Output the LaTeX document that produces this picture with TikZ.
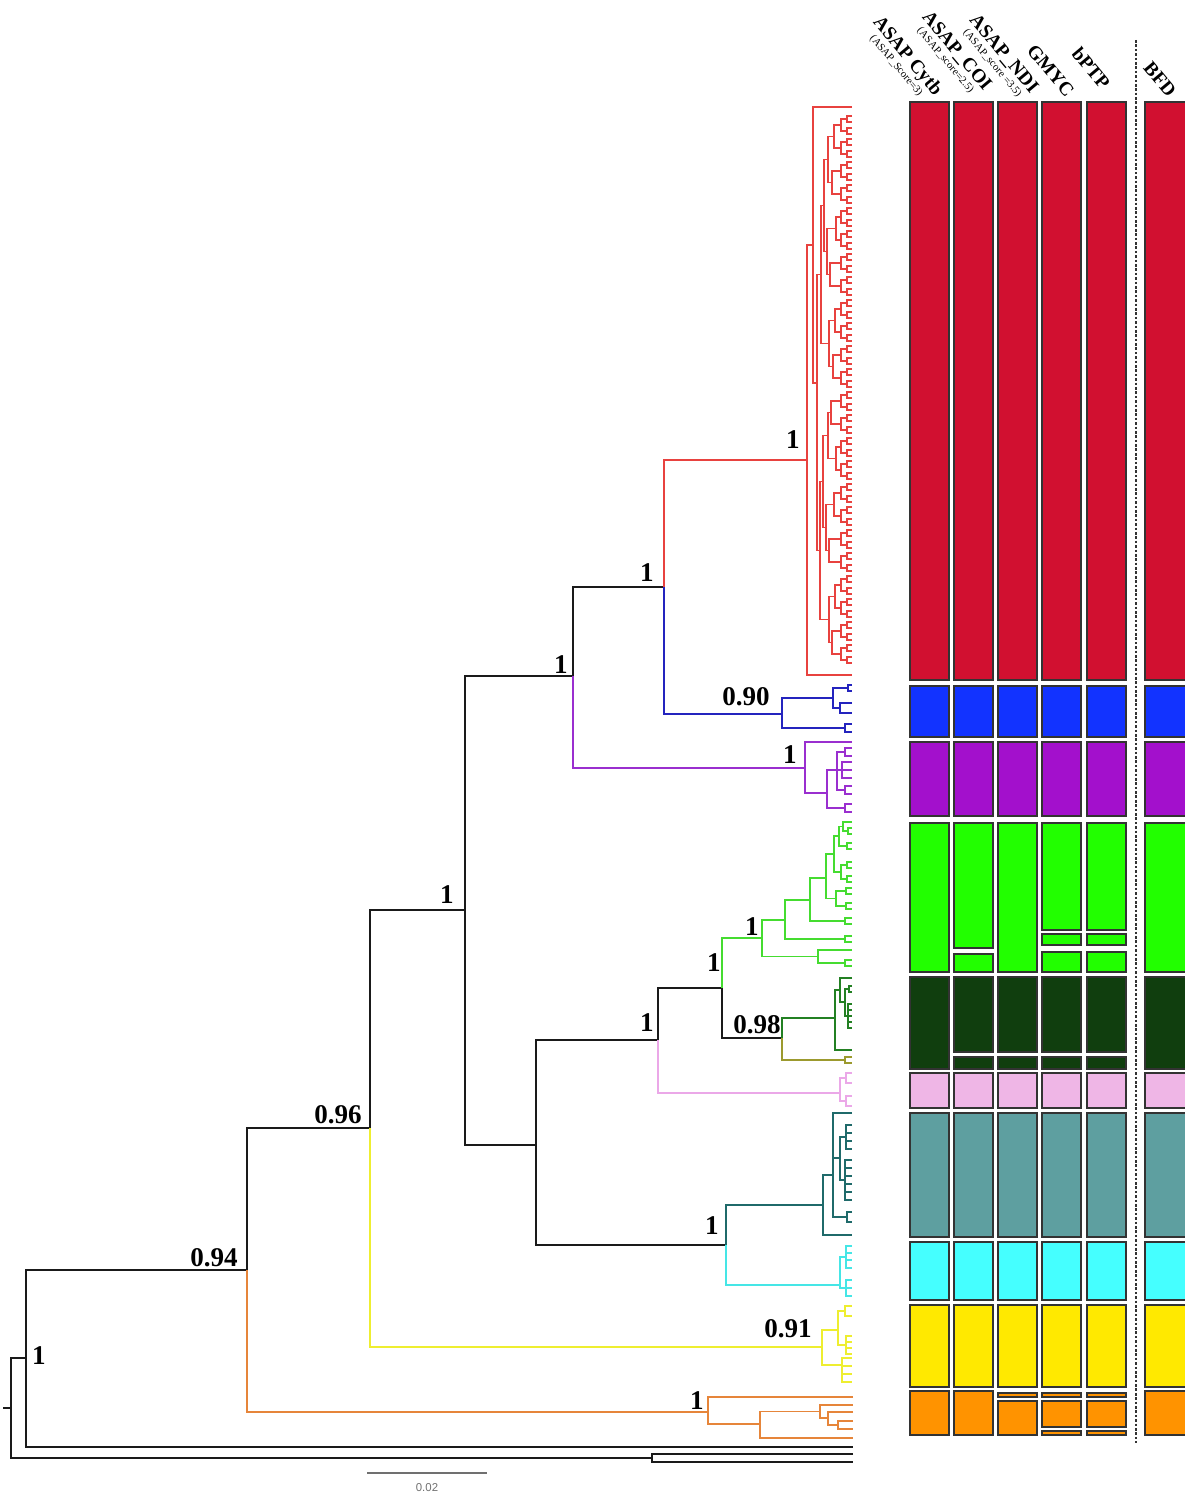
\documentclass[tikz,border=0pt]{standalone}
\usepackage{fontspec}
\setmainfont{Liberation Serif}
\newfontfamily\barfont{Liberation Sans}
\usepackage{tikz}

\definecolor{trblack}{HTML}{1A1A1A}
\definecolor{trred}{HTML}{E8423F}
\definecolor{trblue}{HTML}{2424BE}
\definecolor{trpurple}{HTML}{9A2FCF}
\definecolor{trgreen}{HTML}{45DC30}
\definecolor{trdkgreen}{HTML}{238023}
\definecolor{trolive}{HTML}{9C9A2E}
\definecolor{trpink}{HTML}{EBA8E8}
\definecolor{trteal}{HTML}{1F6A6A}
\definecolor{trcyan}{HTML}{45E6E6}
\definecolor{tryellow}{HTML}{EEEE30}
\definecolor{trorange}{HTML}{E6853A}
\definecolor{bxred}{HTML}{D11030}
\definecolor{bxblue}{HTML}{1233FF}
\definecolor{bxpurple}{HTML}{A310CC}
\definecolor{bxgreen}{HTML}{22FF00}
\definecolor{bxdkgreen}{HTML}{103E0E}
\definecolor{bxpink}{HTML}{EFB6E6}
\definecolor{bxteal}{HTML}{5E9FA0}
\definecolor{bxcyan}{HTML}{45FFFF}
\definecolor{bxyellow}{HTML}{FFE900}
\definecolor{bxorange}{HTML}{FF9300}
\definecolor{bxline}{HTML}{333333}
\definecolor{sbgray}{HTML}{707070}

\tikzstyle{branch}=[line width=1.1pt]
\tikzstyle{bar}=[draw=bxline, line width=1pt]
\tikzstyle{sep}=[draw=bxline, line width=0.9pt, dash pattern=on 1.5pt off 1pt]
\tikzstyle{support}=[font=\fontsize{15.4}{18}\selectfont\bfseries, text=black, inner sep=0pt]
\tikzstyle{method}=[font=\fontsize{11}{12}\selectfont\bfseries, text=black, rotate=-50, inner sep=0pt, align=center]
\tikzstyle{scalebar}=[draw=sbgray, line width=1.1pt]
\tikzstyle{scalelab}=[font=\barfont\fontsize{6.5}{8}\selectfont, text=sbgray, inner sep=0pt]
\newcommand{\asapscore}[1]{{\fontsize{6.1}{7}\selectfont\mdseries #1}}

\begin{document}
\begin{tikzpicture}[x=0.02cm,y=-0.02cm,branch]
  \useasboundingbox (0,0) rectangle (1184,1493);
  % backbone
  \begin{scope}[trblack]
    \draw (3,1408)--(11,1408);
    \draw (26,1358) -| (11,1458) -- (652,1458);
    \draw (853,1454) -| (652,1462) -- (853,1462);
    \draw (247,1270) -| (26,1447) -- (853,1447);
    \draw (370,1128) -| (247,1270);
    \draw (465,910) -| (370,1128);
    \draw (573,676) -| (465,1145) -- (536,1145);
    \draw (658,1040) -| (536,1245) -- (726,1245);
    \draw (722,988) -| (658,1040);
    \draw (782,1038) -| (722,988);
    \draw (664,587) -| (573,676);
  \end{scope}
  % red clade
  \begin{scope}[trred]
    \draw (664,587) |- (807,460);
    \draw (813,245) -| (807,675) -- (852,675);
    \draw (852,107) -| (813,383) -- (817,383);
    \draw (821,274.5) -| (817,550.5) -- (820,550.5);
    \draw (824,205.5) -| (821,343.5) -- (829,343.5);
    \draw (828,159.5) -| (824,251.5) -- (827,251.5);
    \draw (823,481.5) -| (820,619.5) -- (829,619.5);
    \draw (828,435.5) -| (823,527.5) -- (826,527.5);
    \foreach \y/\xq/\xa/\xb in {159.5/828/834/832, 251.5/827/836/830, 343.5/829/835/833,
        435.5/828/831/836, 527.5/826/834/829, 619.5/829/835/832}
      \draw (\xa,\y-23) -| (\xq,\y+23) -- (\xb,\y+23);
    \foreach \y/\xp in {136.5/834, 182.5/832, 228.5/836, 274.5/830, 320.5/835, 366.5/833,
        412.5/831, 458.5/836, 504.5/834, 550.5/829, 596.5/835, 642.5/832}
      \draw (841,\y-11.5) -| (\xp,\y+11.5) -- (841,\y+11.5);
    \foreach \y in {125,148,...,654}{
      \draw (847,\y-6) -| (841,\y+6) -- (847,\y+6);
      \draw (852,\y-9) -| (847,\y-3) -- (852,\y-3);
      \draw (852,\y+3) -| (847,\y+9) -- (852,\y+9);
    }
  \end{scope}
  % blue clade
  \begin{scope}[trblue]
    \draw (664,587) |- (782,714);
    \draw (833,698) -| (782,728) -- (845,728);
    \draw (852,724) -| (845,732) -- (852,732);
    \draw (848,688) -| (833,708) -- (840,708);
    \draw (852,685) -| (848,691) -- (852,691);
    \draw (852,703) -| (840,713) -- (852,713);
  \end{scope}
  % purple clade
  \begin{scope}[trpurple]
    \draw (573,676) |- (805,768);
    \draw (852,742) -| (805,793) -- (827,793);
    \draw (837,770) -| (827,808) -- (845,808);
    \draw (852,804) -| (845,812) -- (852,812);
    \draw (845,752) -| (837,790) -- (845,790);
    \draw (852,748) -| (845,756) -- (852,756);
    \draw (852,786) -| (845,794) -- (852,794);
    \draw (852,762) -| (842,778) -- (852,778);
    \draw (837,770) -- (852,770);
  \end{scope}
  % green clade
  \begin{scope}[trgreen]
    \draw (722,988) |- (762,938);
    \draw (785,920) -| (762,956.5) -- (818,956.5);
    \draw (852,950) -| (818,963) -- (845,963);
    \draw (852,960) -| (845,966) -- (852,966);
    \draw (810,900) -| (785,939) -- (845,939);
    \draw (852,936) -| (845,942) -- (852,942);
    \draw (826,878) -| (810,921) -- (845,921);
    \draw (852,918) -| (845,924) -- (852,924);
    \draw (834,854) -| (826,898.5) -- (836,898.5);
    \draw (846,891) -| (836,906) -- (846,906);
    \draw (852,888) -| (846,894) -- (852,894);
    \draw (852,903) -| (846,909) -- (852,909);
    \draw (839,836) -| (834,872) -- (841,872);
    \draw (843,826.5) -| (839,846) -- (847,846);
    \draw (852,822) -| (843,831) -- (848,831);
    \draw (852,828) -| (848,834) -- (852,834);
    \draw (852,843) -| (847,849) -- (852,849);
    \draw (847,865) -| (841,879) -- (847,879);
    \draw (852,862) -| (847,868) -- (852,868);
    \draw (852,876) -| (847,882) -- (852,882);
  \end{scope}
  % dark green and olive
  \begin{scope}[trdkgreen]
    \draw (782,1038) |- (835,1018);
    \draw (840,990) -| (835,1050) -- (852,1050);
    \draw (852,978) -| (840,1002) -- (845,1002);
    \draw (849,989) -| (845,1016) -- (848,1016);
    \draw (852,986) -| (849,992) -- (852,992);
    \draw (852,1004) -| (848,1028) -- (852,1028);
    \foreach \y in {1010,1016,1022} \draw (848,\y) -- (852,\y);
  \end{scope}
  \begin{scope}[trolive]
    \draw (782,1038) |- (845,1060);
    \draw (852,1057) -| (845,1063) -- (852,1063);
  \end{scope}
  % pink
  \begin{scope}[trpink]
    \draw (658,1040) |- (840,1093);
    \draw (846,1078) -| (840,1101) -- (846,1101);
    \draw (852,1073) -| (846,1083) -- (852,1083);
    \draw (852,1096) -| (846,1106) -- (852,1106);
  \end{scope}
  % teal and cyan
  \begin{scope}[trteal]
    \draw (726,1245) |- (823,1205);
    \draw (833,1175) -| (823,1235) -- (852,1235);
    \draw (852,1113) -| (833,1217) -- (847,1217);
    \draw (833,1158) -- (840,1158);
    \draw (852,1212) -| (847,1222) -- (852,1222);
    \draw (846,1137) -| (840,1180) -- (845,1180);
    \draw (852,1125) -| (846,1149) -- (852,1149);
    \draw (852,1160) -| (845,1200) -- (852,1200);
    \foreach \y in {1133,1141} \draw (846,\y) -- (852,\y);
    \foreach \y in {1168,1176,1184,1192} \draw (845,\y) -- (852,\y);
  \end{scope}
  \begin{scope}[trcyan]
    \draw (726,1245) |- (840,1285);
    \draw (846,1257) -| (840,1288) -- (846,1288);
    \draw (852,1246) -| (846,1268) -- (852,1268);
    \draw (852,1280) -| (846,1296) -- (852,1296);
    \foreach \y in {1253,1260,1288} \draw (846,\y) -- (852,\y);
  \end{scope}
  % yellow
  \begin{scope}[tryellow]
    \draw (370,1128) |- (822,1347);
    \draw (838,1330) -| (822,1365) -- (842,1365);
    \draw (845,1311) -| (838,1345) -- (846,1345);
    \draw (852,1306) -| (845,1316) -- (852,1316);
    \draw (852,1336) -| (846,1354) -- (852,1354);
    \draw (852,1358) -| (842,1382) -- (852,1382);
    \foreach \y in {1342,1348} \draw (846,\y) -- (852,\y);
    \foreach \y in {1366,1374} \draw (842,\y) -- (852,\y);
  \end{scope}
  % orange
  \begin{scope}[trorange]
    \draw (247,1270) |- (708,1412);
    \draw (853,1397) -| (708,1424) -- (760,1424);
    \draw (820,1411.5) -| (760,1438) -- (853,1438);
    \draw (853,1405) -| (820,1418) -- (828,1418);
    \draw (853,1412) -| (828,1425) -- (838,1425);
    \draw (853,1421) -| (838,1429) -- (853,1429);
  \end{scope}
  % posterior values
  \node[support] (s1root) at (39,1356) {1};
  \node[support] (s094) at (214,1258) {0.94};
  \node[support] (s096) at (338,1115) {0.96};
  \node[support] (s1a) at (447,895) {1};
  \node[support] (s1b) at (561,665) {1};
  \node[support] (s1c) at (647,573) {1};
  \node[support] (s1red) at (793,440) {1};
  \node[support] (s090) at (746,697) {0.90};
  \node[support] (s1purple) at (790,755) {1};
  \node[support] (s1green) at (752,927) {1};
  \node[support] (s1d) at (714,963) {1};
  \node[support] (s1e) at (647,1023) {1};
  \node[support] (s098) at (757,1025) {0.98};
  \node[support] (s1teal) at (712,1226) {1};
  \node[support] (s091) at (788,1329) {0.91};
  \node[support] (s1orange) at (697,1401) {1};
  % delimitation bars
  \foreach \ya/\yb/\fillc in {102/680/bxred, 686/737/bxblue, 742/816/bxpurple, 1073/1108/bxpink,
      1113/1237/bxteal, 1242/1300/bxcyan, 1305/1387/bxyellow}
    \foreach \xa/\xb in {910/949, 954/993, 998/1037, 1042/1081, 1087/1126, 1145/1190}
      \draw[bar, fill=\fillc] (\xa,\ya) rectangle (\xb,\yb);
  \foreach \xa/\xb in {910/949, 998/1037, 1145/1190}
    \draw[bar, fill=bxgreen] (\xa,823) rectangle (\xb,972);
  \draw[bar, fill=bxgreen] (954,823) rectangle (993,948);
  \draw[bar, fill=bxgreen] (954,954) rectangle (993,972);
  \foreach \xa/\xb in {1042/1081, 1087/1126}{
    \draw[bar, fill=bxgreen] (\xa,823) rectangle (\xb,930);
    \draw[bar, fill=bxgreen] (\xa,934) rectangle (\xb,945);
    \draw[bar, fill=bxgreen] (\xa,952) rectangle (\xb,972);
  }
  \foreach \xa/\xb in {910/949, 1145/1190}
    \draw[bar, fill=bxdkgreen] (\xa,977) rectangle (\xb,1069);
  \foreach \xa/\xb in {954/993, 998/1037, 1042/1081, 1087/1126}{
    \draw[bar, fill=bxdkgreen] (\xa,977) rectangle (\xb,1052);
    \draw[bar, fill=bxdkgreen] (\xa,1057) rectangle (\xb,1069);
  }
  \foreach \xa/\xb in {910/949, 954/993, 1145/1190}
    \draw[bar, fill=bxorange] (\xa,1391) rectangle (\xb,1435);
  \foreach \xa/\xb in {998/1037, 1042/1081, 1087/1126}
    \draw[bar, fill=bxorange] (\xa,1393) rectangle (\xb,1397);
  \draw[bar, fill=bxorange] (998,1401) rectangle (1037,1435);
  \foreach \xa/\xb in {1042/1081, 1087/1126}{
    \draw[bar, fill=bxorange] (\xa,1401) rectangle (\xb,1427);
    \draw[bar, fill=bxorange] (\xa,1431) rectangle (\xb,1435);
  }
  \draw[sep] (1136,40) -- (1136,1443);
  % method headers
  \node[method] (hcytb) at (903,60) {ASAP Cytb\\[-5pt]\asapscore{(ASAP\_Score=3)}};
  \node[method] (hcoi) at (952,55) {ASAP\_COI\\[-5pt]\asapscore{(ASAP\_score=2.5)}};
  \node[method] (hndi) at (999,58) {ASAP\_NDI\\[-5pt]\asapscore{(ASAP\_score =3.5)}};
  \node[method, anchor=east] (hgmyc) at (1071,95) {GMYC};
  \node[method, anchor=east] (hbptp) at (1107,87) {bPTP};
  \node[method, anchor=east] (hbfd) at (1173,95) {BFD};
  % scale
  \draw[scalebar] (367,1473) coordinate (sbl) -- (487,1473) coordinate (sbr);
  \node[scalelab] (sblab) at (427,1488) {0.02};
\end{tikzpicture}
\end{document}
